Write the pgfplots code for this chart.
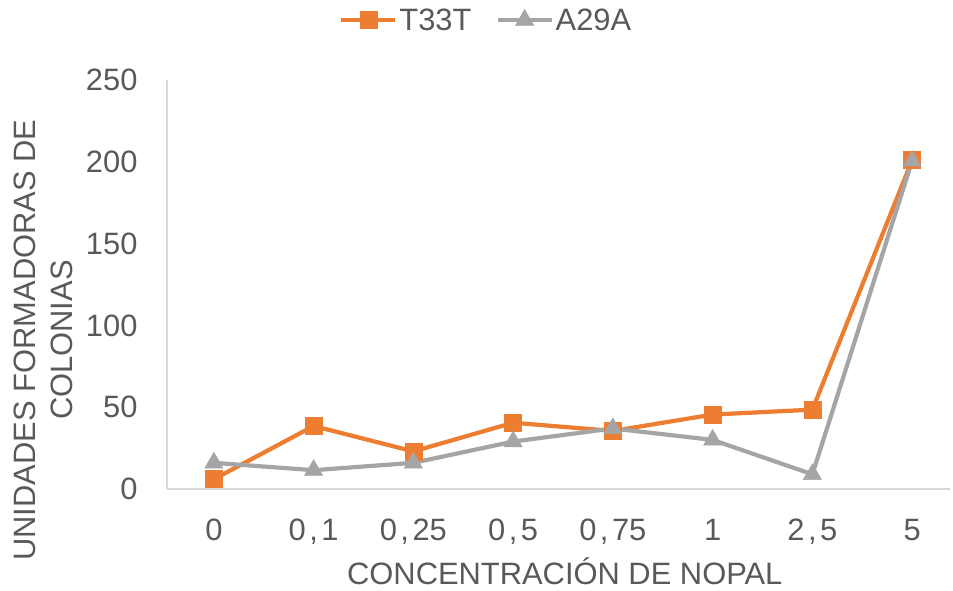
\documentclass[border=0pt]{standalone}
\usepackage{pgfplots}
\pgfplotsset{compat=1.18}
\usepackage{fontspec}
\setmainfont{Liberation Sans}
\definecolor{orng}{HTML}{ED7D31}
\definecolor{gry}{HTML}{A5A5A5}
\definecolor{txt}{HTML}{595959}
\definecolor{axl}{HTML}{D9D9D9}
\newcommand{\cm}{\kern3.5bp,\kern3.5bp}
\begin{document}
\begin{tikzpicture}
\begin{axis}[
  scale only axis,
  width=783bp, height=409bp,
  xmin=-0.47, xmax=7.38,
  ymin=0, ymax=250,
  xtick={0,1,2,3,4,5,6,7},
  xticklabels={0,{0\cm1},{0\cm25},{0\cm5},{0\cm75},1,{2\cm5},5},
  ytick={0,50,100,150,200,250},
  axis x line*=bottom, axis y line*=left,
  x axis line style={draw=axl, line width=1.2bp, -},
  y axis line style={draw=axl, line width=1.2bp, -},
  major tick length=0pt,
  tick style={draw=none},
  /pgf/number format/assume math mode=true,
  ticklabel style={font=\fontsize{31}{37}\selectfont, text=txt},
  xticklabel style={anchor=base, yshift=-51bp},
  yticklabel style={anchor=east, xshift=-26bp},
  xlabel={CONCENTRACIÓN DE NOPAL},
  xlabel style={font=\fontsize{31}{37}\selectfont, text=txt, at={(rel axis cs:0.508,-0.2347)}, anchor=base},
  ylabel={UNIDADES FORMADORAS DE\\COLONIAS},
  ylabel style={font=\fontsize{31}{37}\selectfont, text=txt, align=center, at={(rel axis cs:-0.158,0.364)}, anchor=center, rotate=0},
  clip=false,
  legend columns=2,
  legend style={draw=none, fill=none, font=\fontsize{31}{37}\selectfont, text=txt,
    at={(rel axis cs:0.2197,1.1467)}, anchor=west, inner sep=0pt,
    nodes={inner xsep=2bp, inner ysep=0bp},
    /tikz/every even column/.append style={column sep=22bp}},
  legend image code/.code={\draw[#1, mark repeat=2, mark phase=2] plot coordinates {(0bp,0bp) (27bp,0bp) (54bp,0bp)};},
]
\addplot[color=orng, line width=4.2bp, mark=square*, mark size=8.5bp, mark options={fill=orng, draw=orng, line width=0.5bp}]
  coordinates {(0,6) (1,38.5) (2,23) (3,40.5) (4,35.5) (5,45.5) (6,48.5) (7,201)};
\addlegendentry{T33T}
\addplot[color=gry, line width=4.2bp, mark=triangle*, mark size=10.5bp, mark options={fill=gry, draw=gry, line width=0.5bp}]
  coordinates {(0,16) (1,11.5) (2,16) (3,29) (4,37) (5,30) (6,9) (7,200.5)};
\addlegendentry{A29A}
\path (rel axis cs:-0.2133,-0.247) rectangle (rel axis cs:1.0038,1.1956);
\end{axis}
\end{tikzpicture}
\end{document}
